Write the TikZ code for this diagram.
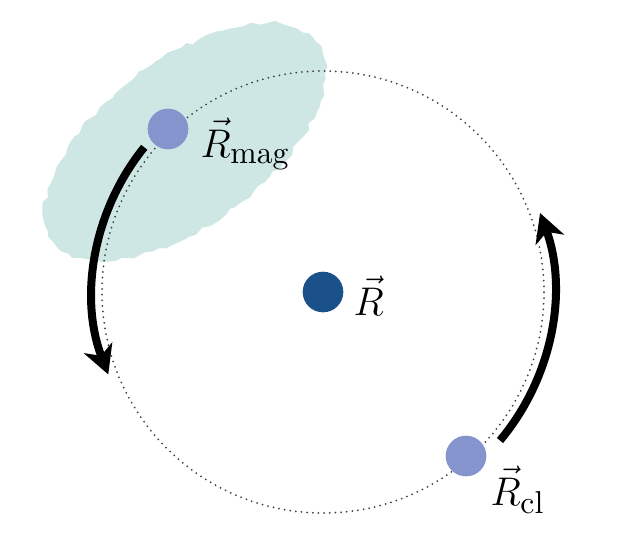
\documentclass[tikz,border=0pt]{standalone}
\usetikzlibrary{arrows.meta,decorations.pathmorphing}
\definecolor{blobcol}{HTML}{CFE7E4}
\definecolor{dotlight}{HTML}{8594CC}
\definecolor{dotdark}{HTML}{1B5189}
\newcommand{\subtxt}[1]{\mbox{\fontsize{9.5}{11}\selectfont #1}}
\tikzset{
  dotnode/.style={circle, inner sep=0pt, minimum size=12.2pt, draw=none},
  lbl/.style={anchor=base west, inner sep=0pt, font=\fontsize{12}{14}\selectfont},
  orbit/.style={black!75, line width=0.6pt, dash pattern=on 0pt off 1.7pt, line cap=round},
  motion/.style={line width=2.4pt, -{Stealth[length=8.5pt, width=9pt, inset=2.5pt]}}
}
\begin{document}
\begin{tikzpicture}[x=0.3pt, y=0.3pt]
\useasboundingbox (0,0) rectangle (642,558);
% shaded region
\fill[blobcol, rotate around={37:(185,416)}, decorate,
      decoration={random steps, segment length=2pt, amplitude=0.7pt}]
  (185,416) ellipse [x radius=49.5pt, y radius=24.6pt];
% centre
\coordinate (o) at (323,266);
\draw[orbit] (o) circle [radius=66.3pt];
% motion arrows
\draw[motion] ([shift={(141:69pt)}]o) arc [start angle=141, end angle=201, radius=69pt];
\draw[motion] ([shift={(-40:69.3pt)}]o) arc [start angle=-40, end angle=20, radius=69.3pt];
% dots
\node[dotnode, fill=dotdark] (c) at (o) {};
\node[dotnode, fill=dotlight] (m) at (168,429) {};
\node[dotnode, fill=dotlight] (cl) at (466,102) {};
% labels
\node[lbl] (lc) at (353,243) {$\vec{R}$};
\node[lbl] (lm) at (200,401) {$\vec{R}_{\subtxt{mag}}$};
\node[lbl] (lcl) at (490,53) {$\vec{R}_{\subtxt{cl}}$};
\end{tikzpicture}
\end{document}
